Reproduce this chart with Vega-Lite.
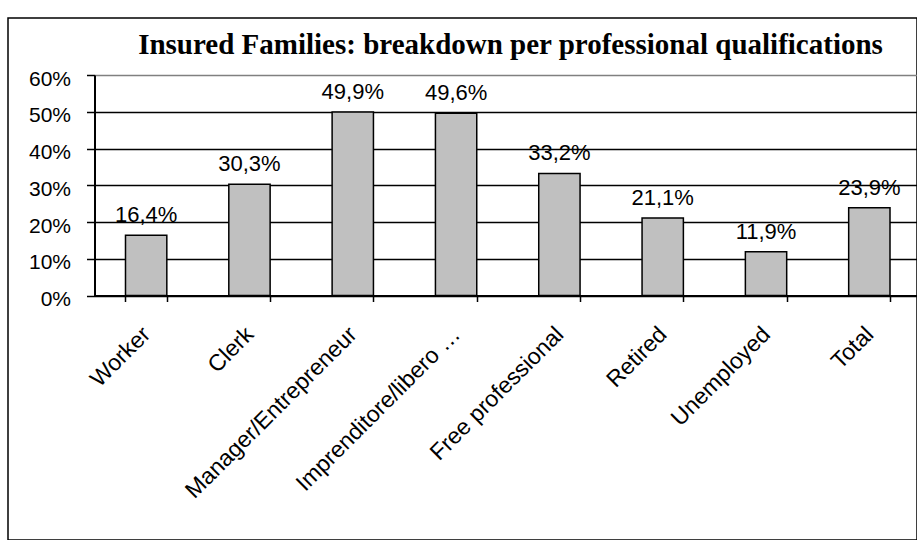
{
  "$schema": "https://vega.github.io/schema/vega-lite/v6.json",
  "width": 909,
  "height": 522,
  "autosize": {"type": "none"},
  "padding": {"left": 8, "top": 18, "right": 0, "bottom": 0},
  "background": "white",
  "config": {
    "view": {"stroke": "black", "strokeWidth": 1.5},
    "locale": {"number": {"decimal": ",", "thousands": ".", "grouping": [3], "currency": ["", " €"]}},
    "font": "Liberation Sans"
  },
  "title": {
    "text": "Insured Families: breakdown per professional qualifications",
    "font": "Liberation Serif",
    "fontSize": 29,
    "fontWeight": "bold",
    "color": "black",
    "anchor": "middle",
    "frame": "group",
    "offset": 0,
    "baseline": "alphabetic",
    "dy": 65,
    "dx": 48
  },
  "data": {
    "values": [
      {"category": "Worker", "share": 0.164},
      {"category": "Clerk", "share": 0.303},
      {"category": "Manager/Entrepreneur", "share": 0.499},
      {"category": "Imprenditore/libero …", "share": 0.496},
      {"category": "Free professional", "share": 0.332},
      {"category": "Retired", "share": 0.211},
      {"category": "Unemployed", "share": 0.119},
      {"category": "Total", "share": 0.239}
    ]
  },
  "encoding": {
    "x": {
      "field": "category",
      "type": "nominal",
      "sort": null,
      "scale": {"range": [86.5, 913], "paddingInner": 0.6, "paddingOuter": 0.3},
      "axis": {
        "title": null,
        "offset": -244.5,
        "labelAngle": -45,
        "labelAlign": "right",
        "labelBaseline": "middle",
        "labelFontSize": 23,
        "labelColor": "black",
        "labelPadding": 29,
        "labelOffset": 0,
        "labelLimit": 400,
        "tickBand": "extent",
        "tickColor": "black",
        "tickSize": 6,
        "tickWidth": 1.5,
        "domainColor": "black",
        "domainWidth": 2,
        "grid": false
      }
    },
    "y": {
      "field": "share",
      "type": "quantitative",
      "scale": {"domain": [0, 0.6], "range": [277.5, 57], "nice": false},
      "axis": {
        "title": null,
        "format": ".0%",
        "values": [0, 0.1, 0.2, 0.3, 0.4, 0.5, 0.6],
        "offset": -86.5,
        "labelFontSize": 21,
        "labelColor": "black",
        "labelPadding": 16,
        "labelOffset": 4,
        "tickColor": "black",
        "tickSize": 8,
        "tickWidth": 1.5,
        "domainColor": "black",
        "domainWidth": 2,
        "grid": true,
        "gridColor": {"condition": {"test": "datum.value >= 0.6", "value": "#808080"}, "value": "black"},
        "gridWidth": 1.5,
        "gridOpacity": 1
      }
    }
  },
  "layer": [
    {"mark": {"type": "bar", "fill": "#c0c0c0", "stroke": "black", "strokeWidth": 1.5}},
    {
      "mark": {"type": "text", "baseline": "alphabetic", "dy": -13, "fontSize": 22, "color": "black"},
      "encoding": {"text": {"field": "share", "type": "quantitative", "format": ".1%"}}
    }
  ]
}
